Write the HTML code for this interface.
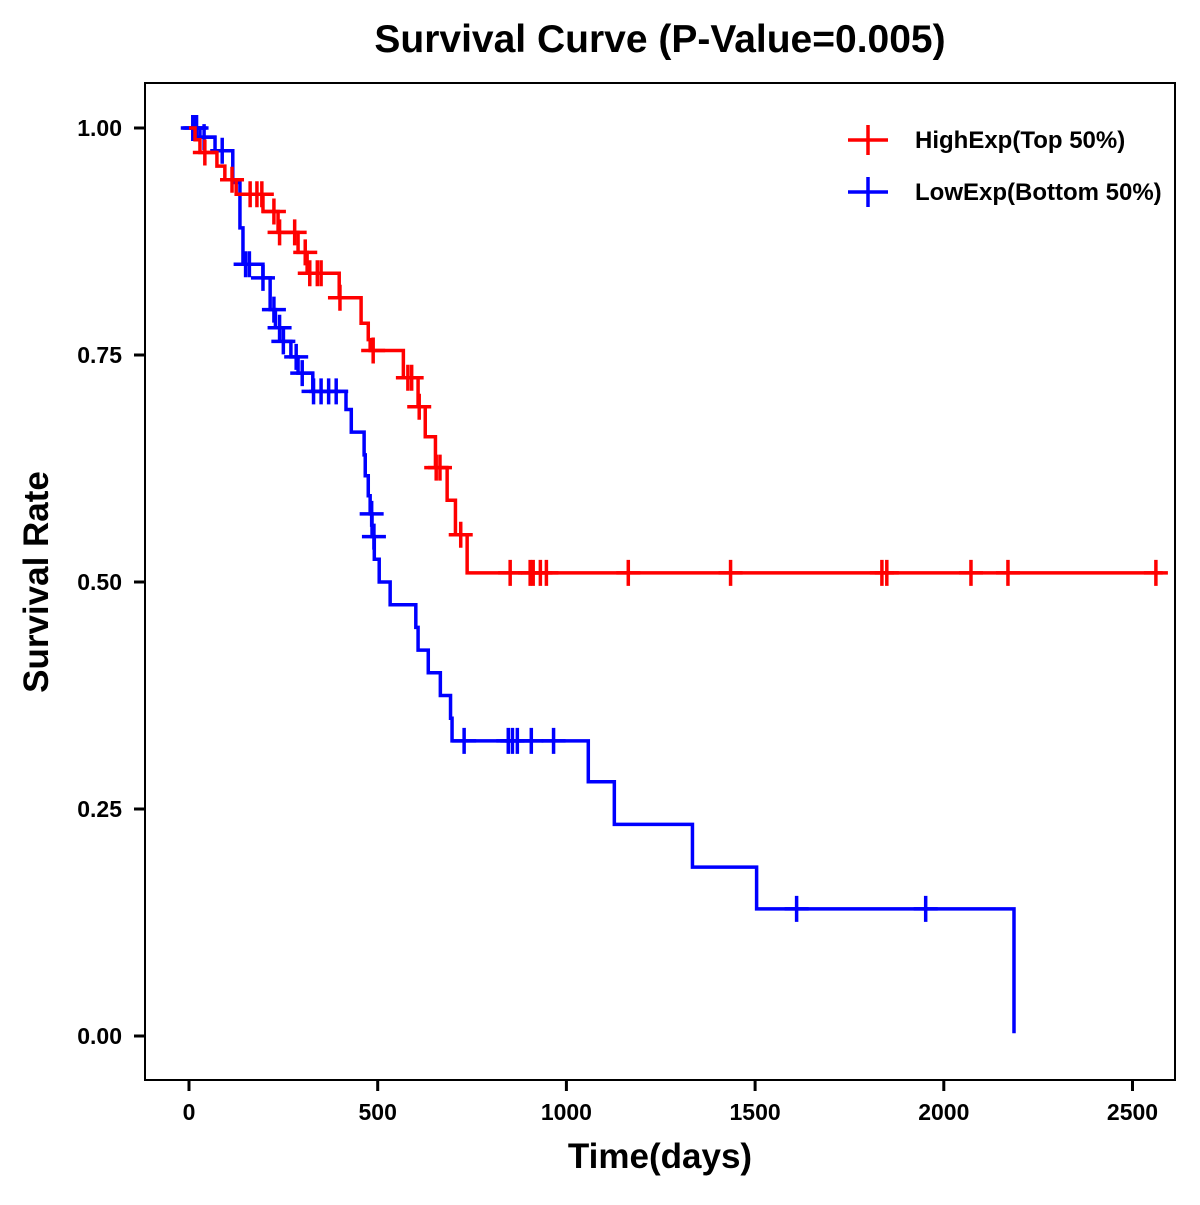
<!DOCTYPE html>
<html><head><meta charset="utf-8"><style>
body{margin:0;background:#fff}
svg text{font-family:"Liberation Sans",Arial,sans-serif;font-weight:bold}
</style></head><body>
<svg id="chart" width="1200" height="1200" xmlns="http://www.w3.org/2000/svg">
<rect x="0" y="0" width="1200" height="1200" fill="#fff"/>
<text x="660" y="52" font-size="39" text-anchor="middle">Survival Curve (P-Value=0.005)</text>
<rect x="145" y="83" width="1030" height="997" fill="none" stroke="#000" stroke-width="2"/>
<g id="axes"></g>
<g id="series"></g>
<text x="660" y="1168" font-size="35" text-anchor="middle">Time(days)</text>
<text transform="translate(48,582) rotate(-90)" font-size="35" text-anchor="middle">Survival Rate</text>
<g>
<g>
<line x1="848" y1="140" x2="888" y2="140" stroke="#f00" stroke-width="3.5"/><line x1="868" y1="125" x2="868" y2="155" stroke="#f00" stroke-width="3.5"/>
<text x="915" y="148" font-size="24">HighExp(Top 50%)</text></g>
<g>
<line x1="848" y1="192" x2="888" y2="192" stroke="#00f" stroke-width="3.5"/><line x1="868" y1="177" x2="868" y2="207" stroke="#00f" stroke-width="3.5"/>
<text x="915" y="200" font-size="24">LowExp(Bottom 50%)</text></g>
</g>
</svg>
<script>
const xTicks=[0,500,1000,1500,2000,2500];
const yTicks=[0,0.25,0.5,0.75,1.0];
const yTickLabels=["0.00","0.25","0.50","0.75","1.00"];
const highTimes=[16,29,74,95,125,196,236,289,313,398,456,475,480,568,607,626,653,684,706,737];
const highSurv=[0.987,0.973,0.958,0.943,0.927,0.908,0.885,0.863,0.840,0.813,0.785,0.767,0.755,0.725,0.693,0.660,0.626,0.590,0.552,0.510];
const highCensor=[42,114,162,180,193,225,240,280,308,320,340,350,400,488,580,590,610,655,665,720,851,904,912,931,947,1164,1435,1836,1849,2072,2170,2562];
const highEnd=2580;
const lowTimes=[29,69,116,135,143,196,215,229,250,270,289,328,416,430,464,467,475,480,485,491,504,533,601,607,634,666,693,697,1058,1127,1334,1504,2186];
const lowSurv=[0.99,0.975,0.94,0.89,0.85,0.835,0.80,0.78,0.765,0.748,0.73,0.71,0.69,0.665,0.64,0.617,0.595,0.575,0.55,0.525,0.50,0.475,0.45,0.425,0.40,0.375,0.35,0.325,0.28,0.233,0.186,0.140,0.003];
const lowCensor=[10,15,20,40,88,150,160,196,225,240,250,284,300,330,350,370,390,484,490,729,846,857,870,907,966,1610,1952];
const lowEnd=2186;
const X=t=>189+t*0.3774;
const Y=s=>1036-s*908;
const NS='http://www.w3.org/2000/svg';
const mk=(tag,attrs,parent)=>{const e=document.createElementNS(NS,tag);for(const k in attrs)e.setAttribute(k,attrs[k]);parent.appendChild(e);return e;};
const axes=document.getElementById('axes'),series=document.getElementById('series');
xTicks.forEach(t=>{
 const l=mk('line',{x1:X(t),x2:X(t),y1:1080,y2:1091,stroke:'#000','stroke-width':3},axes);
 
 
 const tx=mk('text',{x:X(t),y:1120,'font-size':23,'text-anchor':'middle'},axes);tx.textContent=t;
 
 
});
yTicks.forEach((s,i)=>{
 const l=mk('line',{x1:134,x2:145,y1:Y(s),y2:Y(s),stroke:'#000','stroke-width':3},axes);
 
 
 const tx=mk('text',{x:122,y:Y(s)+8,'font-size':23,'text-anchor':'end'},axes);tx.textContent=yTickLabels[i];
 
 
});
function survAt(times,surv,t){let s=1;for(let i=0;i<times.length;i++){if(times[i]<=t)s=surv[i];}return s;}
function draw(times,surv,cens,end,color,name){
 let d='M'+X(0)+','+Y(1);
 for(let i=0;i<times.length;i++){d+=' H'+X(times[i])+' V'+Y(surv[i]);}
 d+=' H'+X(end);
 const p=mk('path',{d:d,fill:'none',stroke:color,'stroke-width':3.5},series);
 
 
 cens.forEach(t=>{
  const y=Y(survAt(times,surv,t)),x=X(t);
  const g=mk('path',{d:'M'+(x-12)+','+y+' H'+(x+12)+' M'+x+','+(y-13)+' V'+(y+13),stroke:color,'stroke-width':3.5,fill:'none'},series);
  
  
 });
}
draw(lowTimes,lowSurv,lowCensor,lowEnd,'#00f','low-exp');
draw(highTimes,highSurv,highCensor,highEnd,'#f00','high-exp');
</script>
</body></html>
